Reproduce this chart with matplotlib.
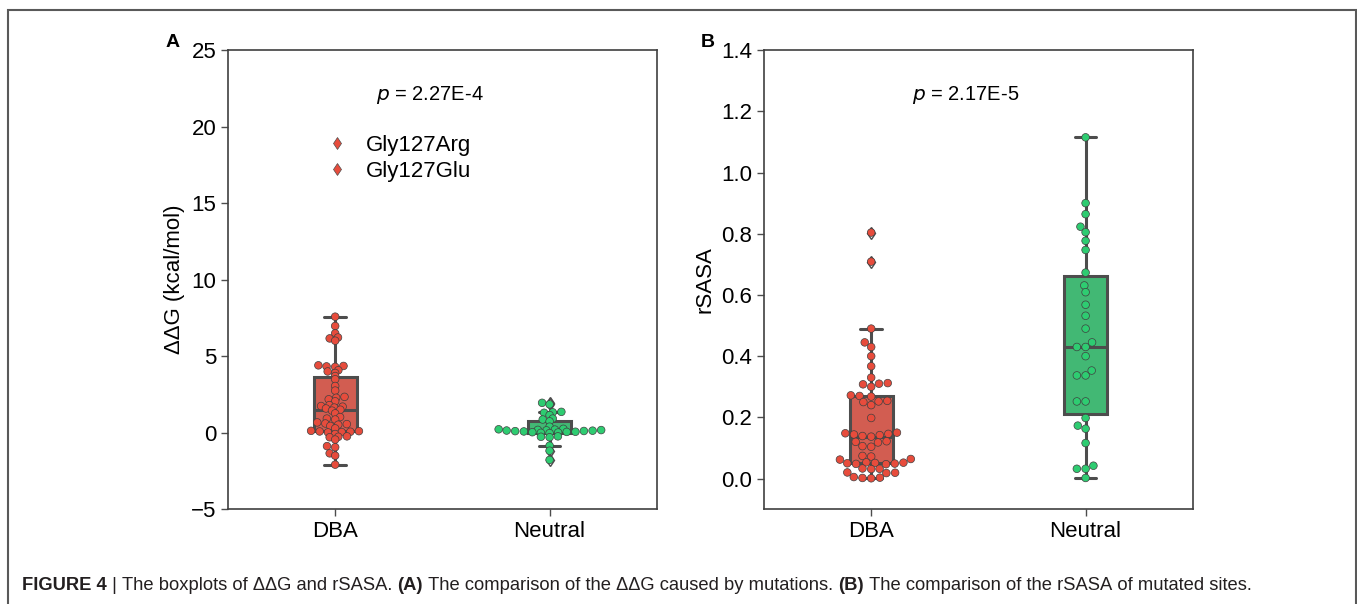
import matplotlib
matplotlib.use("Agg")
import matplotlib.pyplot as plt
import seaborn as sns
import pandas as pd
from matplotlib.lines import Line2D
from matplotlib.patches import Rectangle

sns.set_style("ticks")
plt.rcParams['font.family'] = ['Liberation Sans', 'DejaVu Sans']
plt.rcParams['text.color'] = 'black'
plt.rcParams['xtick.color'] = 'black'
plt.rcParams['ytick.color'] = 'black'
plt.rcParams['axes.labelcolor'] = 'black'

groups = ["DBA", "Neutral"]
colors = ["#e74c3c", "#2ecc71"]

# panel A: ddG (kcal/mol)
ddg_dba = [7.58, 6.97, 6.49, 6.22, 6.16, 6.01, 4.40, 4.36, 4.33, 4.30, 4.08, 4.0,
           3.9, 3.7, 3.49, 3.05, 2.75, 2.34, 2.28, 2.18, 2.05, 1.80, 1.74, 1.70,
           1.64, 1.58, 1.50, 1.44, 1.26, 1.02, 0.92, 0.86, 0.67, 0.60, 0.56, 0.52,
           0.44, 0.28, 0.12, 0.10, 0.08, 0.06, 0.04, 0.02, -0.09, -0.24, -0.27,
           -0.30, -0.45, -0.88, -0.95, -1.35, -1.5, -2.09]
ddg_neutral = [1.95, 1.85, 1.36, 1.33, 1.30, 1.15, 0.92, 0.86, 0.74, 0.39, 0.25,
               0.22, 0.20, 0.18, 0.17, 0.15, 0.14, 0.13, 0.11, 0.10, 0.08, 0.06,
               0.05, 0.03, 0.01, -0.01, -0.03, -0.24, -0.27, -0.30, -0.85, -1.18,
               -1.78]

# panel B: rSASA
rsasa_dba = [0.804, 0.709, 0.49, 0.445, 0.43, 0.40, 0.367, 0.33, 0.312, 0.310,
             0.308, 0.300, 0.272, 0.270, 0.268, 0.254, 0.252, 0.250, 0.24,
             0.198, 0.150, 0.148, 0.146, 0.144, 0.142, 0.139, 0.137, 0.122,
             0.120, 0.118, 0.106, 0.104, 0.074, 0.072, 0.064, 0.062, 0.053,
             0.052, 0.051, 0.050, 0.049, 0.048, 0.047, 0.033, 0.032, 0.031,
             0.020, 0.019, 0.018, 0.005, 0.003, 0.002, 0.001]
rsasa_neutral = [1.115, 0.90, 0.864, 0.823, 0.805, 0.777, 0.747, 0.673, 0.631,
                 0.609, 0.568, 0.532, 0.49, 0.445, 0.43, 0.43, 0.40, 0.353, 0.337,
                 0.337, 0.252, 0.252, 0.198, 0.173, 0.163, 0.116, 0.042, 0.032,
                 0.032, 0.002]

legend_labels = ["Gly127Arg", "Gly127Glu"]
p_texts = ["2.27E-4", "2.17E-5"]


def make_df(a, b):
    return pd.DataFrame({"group": ["DBA"] * len(a) + ["Neutral"] * len(b),
                         "val": a + b})


def panel(ax, df, ylabel, ptxt, letter):
    sns.boxplot(data=df, x="group", y="val", hue="group", order=groups,
                palette=colors, width=0.2, linewidth=2.2, linecolor="0.3",
                fliersize=6, flierprops=dict(marker="d", markeredgecolor="0.3"),
                legend=False, ax=ax)
    sns.swarmplot(data=df, x="group", y="val", hue="group", order=groups,
                  palette=colors, size=5.5, edgecolor="0.25", linewidth=0.5,
                  legend=False, ax=ax)
    ax.set_xlim(-0.5, 1.5)
    ax.set_xlabel("")
    ax.set_ylabel(ylabel, fontsize=16)
    ax.tick_params(labelsize=16, length=5, width=1, color="0.3")
    for s in ax.spines.values():
        s.set_color("0.25")
        s.set_linewidth(1.2)
    ax.text(0.47, 0.902, ptxt, transform=ax.transAxes, ha="center", va="center",
            fontsize=14.5)
    ax.text(-0.13, 1.017, letter, transform=ax.transAxes, ha="center",
            va="center", fontsize=14, fontweight="bold")


fig = plt.figure(figsize=(13.57, 6.04), dpi=100)
axA = fig.add_axes([0.168, 0.157, 0.316, 0.760])
axB = fig.add_axes([0.563, 0.157, 0.316, 0.760])

panel(axA, make_df(ddg_dba, ddg_neutral), "ΔΔG (kcal/mol)",
      "$p$ = " + p_texts[0], "A")
panel(axB, make_df(rsasa_dba, rsasa_neutral), "rSASA",
      "$p$ = " + p_texts[1], "B")

# lay the swarms out on the autoscaled axes, then keep those positions
fig.canvas.draw()
for ax in (axA, axB):
    for c in ax.collections:
        if "draw" in c.__dict__:
            del c.draw

axA.set_ylim(-5, 25)
axA.set_yticks(range(-5, 26, 5))
axB.set_ylim(-0.1, 1.4)
axB.set_yticks([0, 0.2, 0.4, 0.6, 0.8, 1.0, 1.2, 1.4])
axB.set_yticklabels([f"{v:.1f}" for v in axB.get_yticks()])

handles = [Line2D([], [], marker="d", linestyle="", markersize=6,
                  markerfacecolor=colors[0], markeredgecolor="0.3",
                  markeredgewidth=0.5) for _ in legend_labels]
axA.legend(handles, legend_labels, loc="center", bbox_to_anchor=(0.384, 0.764),
           frameon=False, fontsize=16, handletextpad=0.3, labelspacing=0.2)

# outer frame
fig.add_artist(Rectangle((8 / 1357, -0.05), 1348 / 1357, 0.05 + 1 - 10 / 604,
                         transform=fig.transFigure, fill=False,
                         edgecolor="0.35", linewidth=1.5))

# caption, mixed bold / normal
parts = [("FIGURE 4", "bold"), (" | ", "normal"),
         ("The boxplots of ΔΔG and rSASA. ", "normal"), ("(A)", "bold"),
         (" The comparison of the ΔΔG caused by mutations. ", "normal"),
         ("(B)", "bold"),
         (" The comparison of the rSASA of mutated sites.", "normal")]
cap_size = 13.2
renderer = fig.canvas.get_renderer()
x = 22
for s, w in parts:
    t = fig.text(x / 1357, 1 - 585 / 604, s.replace(" ", "\u00a0"),
                 fontsize=cap_size, fontweight=w, color="#231f20",
                 va="center", ha="left")
    x += t.get_window_extent(renderer).width

fig.savefig("out.png", dpi=100)
